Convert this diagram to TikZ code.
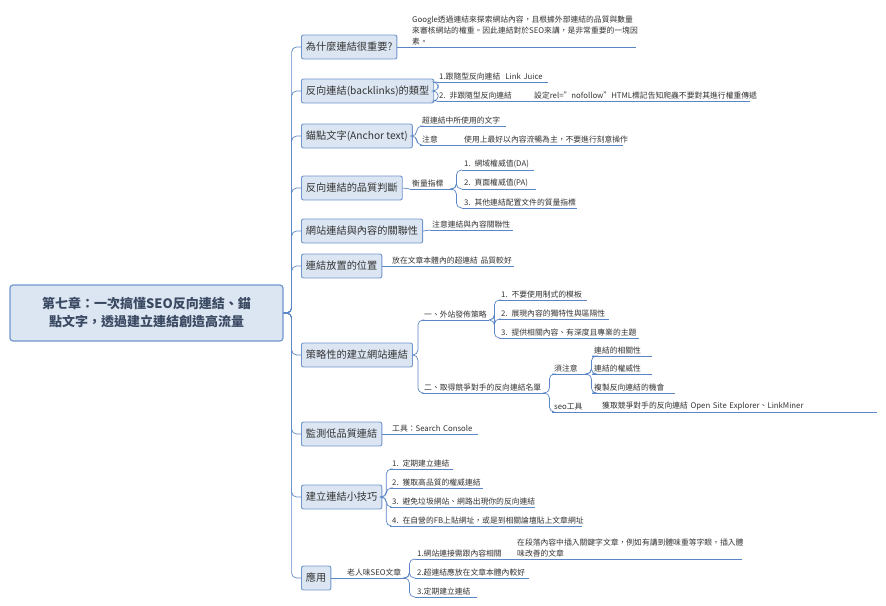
\documentclass[tikz,border=0pt]{standalone}
\usepackage{fontspec}
\setmainfont{Noto Sans CJK TC}
\definecolor{lc}{HTML}{5B86C6}
\definecolor{bfill}{HTML}{DCE6F2}
\definecolor{bdraw}{HTML}{7196CC}
\definecolor{tx}{HTML}{333333}
\tikzset{
  topic/.style={draw=bdraw,fill=bfill,rounded corners=2pt,line width=0.9pt,anchor=west,
    minimum height=24pt,inner xsep=4.5pt,font=\fontsize{10.2}{13}\selectfont,text=tx},
  leaf/.style={anchor=south west,inner xsep=2pt,inner ysep=2pt,align=left,
    font=\fontsize{7.8}{11}\selectfont,text=tx,
    append after command={(\tikzlastnode.south west) edge[uline] (\tikzlastnode.south east)}},
  uline/.style={draw=lc,line width=0.9pt},
  conn/.style={draw=lc,line width=0.7pt,rounded corners=5pt}
}
\begin{document}
\begin{tikzpicture}[x=1pt,y=-1pt]
\useasboundingbox (0,0) rectangle (886,605);
% center
\node[draw=bdraw,fill=bfill,rounded corners=3pt,line width=1.2pt,minimum width=273pt,minimum height=56pt,
  align=center,font=\fontsize{13}{18}\selectfont\bfseries,text={rgb,255:red,59;green,74;blue,99}] (c) at (146.5,313)
  {第七章：一次搞懂SEO反向連結、錨\\點文字，透過建立連結創造高流量};
% topics
\node[topic] (t1) at (301,47) {為什麼連結很重要?};
\node[topic] (t2) at (301,91) {反向連結(backlinks)的類型};
\node[topic] (t3) at (301,136) {錨點文字(Anchor text)};
\node[topic] (t4) at (301,188) {反向連結的品質判斷};
\node[topic] (t5) at (301,231) {網站連結與內容的關聯性};
\node[topic] (t6) at (301,266) {連結放置的位置};
\node[topic] (t7) at (301,355) {策略性的建立網站連結};
\node[topic] (t8) at (301,434) {監測低品質連結};
\node[topic] (t9) at (301,497) {建立連結小技巧};
\node[topic] (t10) at (301,578) {應用};
\foreach \t in {t1,t2,t3,t4,t5,t6,t7,t8,t9,t10}
  \draw[conn] (c.east) -- ++(8,0) |- (\t.west);
% leaves
\node[leaf,text width=222pt] (a1) at (410,47) {Google透過連結來探索網站內容，且根據外部連結的品質與數量\\來審核網站的權重。因此連結對於SEO來講，是非常重要的一塊因\\素。};
\node[leaf,text width=107pt] (b1) at (437,82) {\mbox{1.跟隨型反向連結\ \ Link Juice}};
\node[leaf,text width=81pt] (b2) at (437,101) {\mbox{2. 非跟隨型反向連結}};
\node[leaf,text width=214pt] (b3) at (532,101) {\mbox{設定rel="nofollow"HTML標記告知爬蟲不要對其進行權重傳遞}};
\node[leaf,text width=82pt] (c1) at (420,126) {\mbox{超連結中所使用的文字}};
\node[leaf,text width=26pt] (c2) at (420,145) {\mbox{注意}};
\node[leaf,text width=157pt] (c3) at (462,145) {\mbox{使用上最好以內容流暢為主，不要進行刻意操作}};
\node[leaf,text width=38pt] (d0) at (410,189) {\mbox{衡量指標}};
\node[leaf,text width=68pt] (d1) at (462,170) {\mbox{1. 網域權威值(DA)}};
\node[leaf,text width=70pt] (d2) at (462,189) {\mbox{2. 頁面權威值(PA)}};
\node[leaf,text width=111pt] (d3) at (462,208) {\mbox{3. 其他連結配置文件的質量指標}};
\node[leaf,text width=79pt] (e1) at (430,230) {\mbox{注意連結與內容關聯性}};
\node[leaf,text width=120pt] (f1) at (390,266) {\mbox{放在文章本體內的超連結 品質較好}};
\node[leaf,text width=63pt] (g1) at (422,320) {\mbox{一、外站發佈策略}};
\node[leaf,text width=84pt] (g11) at (499,300) {\mbox{1. 不要使用制式的模板}};
\node[leaf,text width=106pt] (g12) at (499,319) {\mbox{2. 展現內容的獨特性與區隔性}};
\node[leaf,text width=136pt] (g13) at (499,338) {\mbox{3. 提供相關內容、有深度且專業的主題}};
\node[leaf,text width=119pt] (g2) at (422,393) {\mbox{二、取得競爭對手的反向連結名單}};
\node[leaf,text width=31pt] (g21) at (552,374) {\mbox{須注意}};
\node[leaf,text width=56pt] (g211) at (592,356) {\mbox{連結的相關性}};
\node[leaf,text width=56pt] (g212) at (592,374) {\mbox{連結的權威性}};
\node[leaf,text width=79pt] (g213) at (592,393) {\mbox{複製反向連結的機會}};
\node[leaf,text width=36pt] (g22) at (552,412) {\mbox{seo工具}};
\node[leaf,text width=273pt] (g221) at (600,412) {\mbox{獲取競爭對手的反向連結 Open Site Explorer、LinkMiner}};
\node[leaf,text width=84pt] (h1) at (390,434) {\mbox{工具：Search Console}};
\node[leaf,text width=59pt] (i1) at (390,469) {\mbox{1. 定期建立連結}};
\node[leaf,text width=89pt] (i2) at (390,488) {\mbox{2. 獲取高品質的權威連結}};
\node[leaf,text width=141pt] (i3) at (390,507) {\mbox{3. 避免垃圾網站、網路出現你的反向連結}};
\node[leaf,text width=188pt] (i4) at (390,526) {\mbox{4. 在自營的FB上貼網址，或是到相關論壇貼上文章網址}};
\node[leaf,text width=56pt] (j0) at (345,578) {\mbox{老人味SEO文章}};
\node[leaf,text width=88pt] (j1) at (415,559) {\mbox{1.網站連接需跟內容相關}};
\node[leaf,text width=223pt] (j11) at (515,559) {在段落內容中插入關鍵字文章，例如有講到體味重等字眼，插入體\\味改善的文章};
\node[leaf,text width=110pt] (j2) at (415,578) {\mbox{2.超連結應放在文章本體內較好}};
\node[leaf,text width=58pt] (j3) at (415,597) {\mbox{3.定期建立連結}};
% connectors
\draw[conn] (t1.east) -- (a1.south west);
\foreach \n in {b1,b2} \draw[conn] (t2.east) -- ++(4,0) |- (\n.south west);
\draw[conn] (b2.south east) -- (b3.south west);
\foreach \n in {c1,c2} \draw[conn] (t3.east) -- ++(4,0) |- (\n.south west);
\draw[conn] (c2.south east) -- (c3.south west);
\draw[conn] (t4.east) -- (d0.south west);
\foreach \n in {d1,d2,d3} \draw[conn] (d0.south east) -- ++(4,0) |- (\n.south west);
\draw[conn] (t5.east) -- (e1.south west);
\draw[conn] (t6.east) -- (f1.south west);
\foreach \n in {g1,g2} \draw[conn] (t7.east) -- ++(5,0) |- (\n.south west);
\foreach \n in {g11,g12,g13} \draw[conn] (g1.south east) -- ++(5,0) |- (\n.south west);
\foreach \n in {g21,g22} \draw[conn] (g2.south east) -- ++(4,0) |- (\n.south west);
\foreach \n in {g211,g212,g213} \draw[conn] (g21.south east) -- ++(4,0) |- (\n.south west);
\draw[conn] (g22.south east) -- (g221.south west);
\draw[conn] (t8.east) -- (h1.south west);
\foreach \n in {i1,i2,i3,i4} \draw[conn] (t9.east) -- ++(4,0) |- (\n.south west);
\draw[conn] (t10.east) -- (j0.south west);
\foreach \n in {j1,j2,j3} \draw[conn] (j0.south east) -- ++(4,0) |- (\n.south west);
\draw[conn] (j1.south east) -- (j11.south west);
\end{tikzpicture}
\end{document}
